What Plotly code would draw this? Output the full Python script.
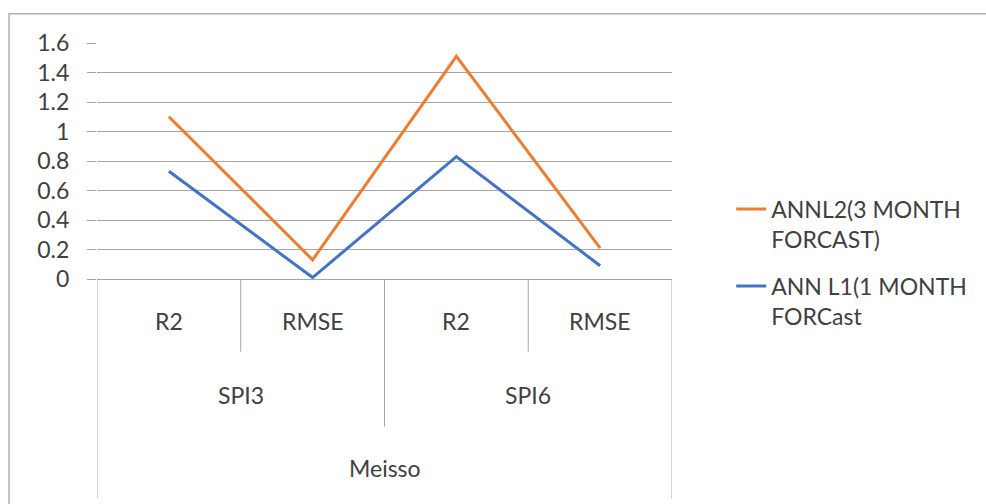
import plotly.graph_objects as go

# ---- data ----
metrics = ["R2", "RMSE", "R2", "RMSE"]
groups = ["SPI3", "SPI6"]
station = "Meisso"
annl2_3m = [1.10, 0.13, 1.51, 0.21]
annl1_1m = [0.73, 0.01, 0.83, 0.09]
series_names = ["ANNL2(3 MONTH<br>FORCAST)", "ANN L1(1 MONTH<br>FORCast"]
y_ticks = [0, 0.2, 0.4, 0.6, 0.8, 1, 1.2, 1.4, 1.6]

FONT = "Lato"
FS = 23
GRID = "#a6a6a6"
TXT = "#404040"

x = list(range(len(metrics)))
fig = go.Figure()
fig.add_trace(go.Scatter(x=x, y=annl2_3m, mode="lines", name=series_names[0], legendgroup="a",
                         line=dict(color="#ED7D31", width=3)))
fig.add_trace(go.Scatter(x=x, y=annl1_1m, mode="lines", name=series_names[1], legendgroup="b",
                         line=dict(color="#4472C4", width=3)))

shapes = []
annotations = []
lab_font = dict(family=FONT, size=FS, color=TXT)
# level-1 labels
for i, m in enumerate(metrics):
    annotations.append(dict(x=i, y=-0.18, xref="x", yref="paper", yanchor="middle", text=m,
                            showarrow=False, font=lab_font))
# level-2 labels
per = len(metrics) // len(groups)
for g, name in enumerate(groups):
    cx = g * per + (per - 1) / 2
    annotations.append(dict(x=cx, y=-0.49, xref="x", yref="paper", yanchor="middle", text=name,
                            showarrow=False, font=lab_font))
annotations.append(dict(x=(len(metrics) - 1) / 2, y=-0.80, xref="x", yref="paper", yanchor="middle",
                        text=station, showarrow=False, font=lab_font))

# dividers
for i in range(len(metrics) - 1):
    b = i + 0.5
    y1 = -0.625 if (i + 1) % per == 0 else -0.308
    shapes.append(dict(type="line", xref="x", yref="paper", x0=b, x1=b, y0=0, y1=y1,
                       line=dict(color=GRID, width=1)))
for b in [-0.5, len(metrics) - 0.5]:
    shapes.append(dict(type="line", xref="x", yref="paper", x0=b, x1=b, y0=0, y1=-0.93,
                       line=dict(color=GRID, width=1)))
# outer chart border
shapes.append(dict(type="rect", xref="paper", yref="paper", x0=-0.153, x1=1.8, y0=-1.2, y1=1.124,
                   line=dict(color="#b0b0b0", width=1.5), fillcolor="rgba(0,0,0,0)", layer="below"))

fig.update_layout(
    width=986, height=504,
    margin=dict(l=97, r=314, t=43, b=225),
    paper_bgcolor="white", plot_bgcolor="white",
    font=dict(family=FONT, size=FS, color=TXT),
    shapes=shapes, annotations=annotations,
    showlegend=True,
    legend=dict(x=1.103, y=0.387, xanchor="left", yanchor="top", valign="top",
                font=dict(family=FONT, size=FS, color=TXT), tracegroupgap=14,
                bgcolor="rgba(0,0,0,0)"),
    xaxis=dict(range=[-0.5, len(metrics) - 0.5], showticklabels=False, showgrid=False,
               zeroline=False, showline=True, linecolor=GRID, linewidth=1, ticks=""),
    yaxis=dict(range=[0, 1.6], tickvals=y_ticks, ticktext=[f"{v:g}" for v in y_ticks],
               showgrid=True, gridcolor=GRID, gridwidth=1, zeroline=False,
               ticks="outside", ticklen=9, tickcolor=GRID, showline=False,
               ticklabelstandoff=13, tickfont=dict(family=FONT, size=FS, color=TXT)),
)

fig.write_html("out.html")
